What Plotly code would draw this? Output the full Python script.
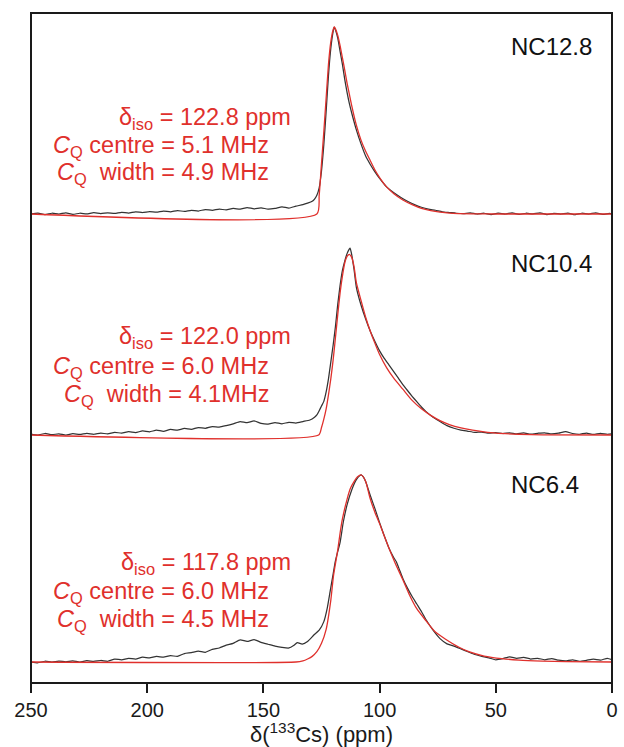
import plotly.graph_objects as go

# ---------------- data ----------------
# Panel NC12.8
nc128_exp_ppm = [250, 247, 244, 241, 238, 235, 232, 229, 226, 223, 220, 217, 214, 211, 208, 205, 202, 199,
                 196, 193, 190, 187, 184, 181, 178, 175, 172, 169, 166, 163, 160, 157, 154, 151, 148, 145,
                 142, 139, 136, 133, 131, 129, 128, 127, 126, 125, 124, 123, 122, 121, 120, 119.5, 119, 118,
                 117, 116, 115, 114, 113, 112, 110, 108, 106, 104, 102, 100, 97, 94, 91, 88, 85, 82, 79, 76,
                 73, 70, 67, 64, 61, 58, 55, 52, 49, 46, 43, 40, 37, 34, 31, 28, 25, 22, 19, 16, 13, 10, 7, 4, 1, 0]
nc128_exp_int = [0.0, 0.005, -0.003, 0.004, 0.0, 0.006, -0.002, 0.004, 0.001, 0.007, 0.002, 0.006, 0.003, 0.009,
                 0.005, 0.012, 0.008, 0.013, 0.01, 0.016, 0.012, 0.018, 0.014, 0.02, 0.016, 0.024, 0.02, 0.026,
                 0.022, 0.03, 0.026, 0.034, 0.028, 0.033, 0.026, 0.03, 0.038, 0.032, 0.042, 0.05, 0.058, 0.068,
                 0.08, 0.1, 0.14, 0.23, 0.37, 0.55, 0.74, 0.885, 0.975, 1.0, 0.985, 0.94, 0.87, 0.80, 0.72,
                 0.65, 0.59, 0.54, 0.45, 0.375, 0.31, 0.265, 0.225, 0.19, 0.145, 0.115, 0.09, 0.068, 0.05, 0.036,
                 0.026, 0.02, 0.012, 0.008, 0.004, 0.002, 0.006, 0.0, 0.004, -0.003, 0.005, 0.0, 0.006, -0.002,
                 0.004, 0.001, 0.006, -0.003, 0.003, 0.0, 0.005, -0.004, 0.004, 0.0, 0.006, -0.002, 0.003, 0.0]
nc128_fit_ppm = [250, 127, 126, 125, 124, 123, 122, 121, 120, 119.5, 119, 118, 117, 116, 115, 114, 113, 112, 110,
                 108, 106, 104, 102, 100, 97, 94, 90, 86, 82, 78, 74, 70, 60, 50, 0]
nc128_fit_int = [0.0, 0.0, 0.10, 0.27, 0.44, 0.62, 0.80, 0.92, 0.985, 1.0, 0.99, 0.955, 0.90, 0.835, 0.77, 0.70,
                 0.64, 0.58, 0.475, 0.395, 0.335, 0.285, 0.235, 0.195, 0.145, 0.11, 0.075, 0.05, 0.03, 0.018,
                 0.01, 0.005, 0.001, 0.0, 0.0]

# Panel NC10.4
nc104_exp_ppm = [250, 247, 244, 241, 238, 235, 232, 229, 226, 223, 220, 217, 214, 211, 208, 205, 202, 199,
                 196, 193, 190, 187, 184, 181, 178, 175, 172, 169, 166, 163, 160, 157, 154, 151, 148, 145,
                 142, 139, 136, 133, 130, 128, 127, 126, 125, 124, 123, 122, 121, 120, 119, 118, 117, 116,
                 115, 114, 113, 112.7, 112, 111, 110, 108, 106, 104, 102, 100, 98, 96, 94, 92, 90, 88, 86, 84,
                 82, 80, 77, 74, 71, 68, 65, 62, 59, 56, 53, 50, 47, 44, 41, 38, 35, 32, 29, 26, 23, 20, 17,
                 14, 11, 8, 5, 2, 0]
nc104_exp_int = [0.005, 0.0, 0.008, 0.002, 0.006, 0.0, 0.007, 0.003, 0.009, 0.004, 0.01, 0.006, 0.014, 0.01,
                 0.018, 0.013, 0.022, 0.017, 0.026, 0.02, 0.03, 0.026, 0.035, 0.03, 0.04, 0.036, 0.045, 0.042,
                 0.05, 0.06, 0.072, 0.066, 0.075, 0.062, 0.058, 0.066, 0.06, 0.068, 0.064, 0.072, 0.08, 0.095,
                 0.107, 0.13, 0.155, 0.18, 0.23, 0.30, 0.39, 0.48, 0.58, 0.70, 0.80, 0.88, 0.93, 0.97, 0.995,
                 1.0, 0.965, 0.885, 0.79, 0.695, 0.62, 0.555, 0.50, 0.45, 0.41, 0.375, 0.34, 0.305, 0.27, 0.238,
                 0.207, 0.178, 0.15, 0.125, 0.095, 0.072, 0.05, 0.036, 0.026, 0.02, 0.014, 0.016, 0.01, 0.013,
                 0.008, 0.012, 0.006, 0.011, 0.005, 0.009, 0.012, 0.006, 0.01, 0.018, 0.008, 0.004, 0.01, 0.003,
                 0.009, 0.004, 0.006]
nc104_fit_ppm = [250, 126.2, 125, 124, 123, 122, 121, 120, 119, 118, 117, 116, 115, 114, 113, 112, 111, 110,
                 108, 106, 104, 102, 100, 97, 94, 90, 86, 82, 78, 74, 70, 65, 60, 55, 50, 40, 30, 0]
nc104_fit_int = [0.0, 0.0, 0.04, 0.085, 0.14, 0.215, 0.30, 0.40, 0.52, 0.645, 0.76, 0.85, 0.92, 0.955, 0.966,
                 0.95, 0.9, 0.815, 0.72, 0.63, 0.555, 0.49, 0.43, 0.36, 0.305, 0.245, 0.185, 0.14, 0.105,
                 0.077, 0.056, 0.038, 0.026, 0.017, 0.01, 0.004, 0.001, 0.0]

# Panel NC6.4
nc64_exp_ppm = [250, 247, 244, 241, 238, 235, 232, 229, 226, 223, 220, 217, 214, 211, 208, 205, 202, 199,
                196, 193, 190, 187, 184, 181, 178, 175, 172, 169, 166, 163, 160, 157, 154, 151, 148, 145,
                142, 139, 137, 135.4, 133.3, 131, 128.3, 126, 124, 122.5, 121.3, 120, 119.1, 118.4, 117,
                115.6, 114, 112, 110, 108.5, 107.8, 107, 106, 104, 102, 100, 98, 96, 94, 92.8, 91.5, 90, 88,
                86, 84, 82, 80, 77, 74, 71, 68, 65, 62, 59, 56, 53, 50, 47, 44, 41, 38, 35, 32, 29, 26, 23,
                20, 17, 14, 11, 8, 5, 2, 0]
nc64_exp_int = [0.0, -0.004, 0.004, 0.0, 0.005, 0.001, 0.006, 0.0, 0.007, 0.003, 0.008, 0.004, 0.015, 0.012,
                0.02, 0.016, 0.026, 0.022, 0.03, 0.026, 0.034, 0.03, 0.045, 0.05, 0.058, 0.052, 0.068, 0.075,
                0.09, 0.1, 0.118, 0.11, 0.12, 0.105, 0.095, 0.085, 0.078, 0.075, 0.088, 0.104, 0.096, 0.11, 0.144,
                0.17, 0.216, 0.29, 0.376, 0.47, 0.536, 0.572, 0.64, 0.75, 0.84, 0.92, 0.975, 0.997, 1.0, 0.99,
                0.965, 0.89, 0.82, 0.745, 0.675, 0.61, 0.56, 0.536, 0.495, 0.447, 0.395, 0.35, 0.31, 0.27,
                0.226, 0.17, 0.125, 0.097, 0.085, 0.07, 0.055, 0.04, 0.03, 0.022, 0.012, 0.018, 0.028, 0.02,
                0.025, 0.016, 0.02, 0.012, 0.018, 0.01, 0.006, 0.012, 0.004, 0.009, 0.015, 0.01, 0.02, 0.012]
nc64_fit_ppm = [250, 136, 133, 131, 129, 127, 125, 123, 121, 119.8, 118, 117, 116, 114, 112.5, 111, 109.5,
                107.8, 106, 104.2, 102, 100, 98.5, 96, 94, 92.8, 90, 87.2, 84, 80, 76, 71.6, 66, 61.6, 55,
                47.4, 40, 30, 20, 0]
nc64_fit_int = [0.0, 0.0, 0.006, 0.016, 0.03, 0.055, 0.1, 0.175, 0.33, 0.465, 0.6, 0.69, 0.765, 0.87, 0.93,
                0.965, 0.99, 1.0, 0.965, 0.88, 0.8, 0.74, 0.69, 0.61, 0.55, 0.515, 0.44, 0.36, 0.285, 0.22,
                0.16, 0.122, 0.08, 0.055, 0.032, 0.018, 0.01, 0.005, 0.002, 0.0]

panel_names = ["NC12.8", "NC10.4", "NC6.4"]
panel_params = [
    ["δ<sub>iso</sub> = 122.8 ppm", "<i>C</i><sub>Q</sub> centre = 5.1 MHz", "<i>C</i><sub>Q</sub>  width = 4.9 MHz"],
    ["δ<sub>iso</sub> = 122.0 ppm", "<i>C</i><sub>Q</sub> centre = 6.0 MHz", "<i>C</i><sub>Q</sub>  width = 4.1MHz"],
    ["δ<sub>iso</sub> = 117.8 ppm", "<i>C</i><sub>Q</sub> centre = 6.0 MHz", "<i>C</i><sub>Q</sub>  width = 4.5 MHz"],
]
x_ticks = [250, 200, 150, 100, 50, 0]
x_title = "δ(<sup>133</sup>Cs) (ppm)"

# ---------------- figure ----------------
W, H = 624, 747
ML, MR, MT, MB = 31, 6, 13, 64
plot_h = H - MT - MB

def py(px):  # pixel row -> paper y
    return (H - MB - px) / plot_h

def pxx(px):  # pixel column -> paper x
    return (px - ML) / (W - ML - MR)

BLACK = "#333333"
RED = "#e0302c"
FONT = "Liberation Sans, Arial, sans-serif"

exp_sets = [(nc128_exp_ppm, nc128_exp_int), (nc104_exp_ppm, nc104_exp_int), (nc64_exp_ppm, nc64_exp_int)]
fit_sets = [(nc128_fit_ppm, nc128_fit_int), (nc104_fit_ppm, nc104_fit_int), (nc64_fit_ppm, nc64_fit_int)]

# pixel rows: (domain top, domain bottom, baseline), unit height in px
panel_px = [(13, 224, 214), (224, 445, 435), (445, 683, 662)]
unit = 187.0
yaxis_names = ["y3", "y2", "y"]
layout_keys = ["yaxis3", "yaxis2", "yaxis"]

fig = go.Figure()
layout_axes = {}
for i in range(3):
    top, bot, base = panel_px[i]
    yname = yaxis_names[i]
    fig.add_trace(go.Scatter(x=exp_sets[i][0], y=exp_sets[i][1], mode="lines", yaxis=yname, xaxis="x",
                             line=dict(color=BLACK, width=1.25, shape="spline", smoothing=0.5),
                             showlegend=False, hoverinfo="skip"))
    fig.add_trace(go.Scatter(x=fit_sets[i][0], y=fit_sets[i][1], mode="lines", yaxis=yname, xaxis="x",
                             line=dict(color=RED, width=1.3, shape="spline", smoothing=0.6),
                             showlegend=False, hoverinfo="skip"))
    layout_axes[layout_keys[i]] = dict(
        domain=[py(bot), py(top)],
        range=[(base - bot) / unit, (base - top) / unit],
        visible=False, fixedrange=True, anchor="x",
    )

fig.update_layout(**layout_axes)

fig.update_layout(
    width=W, height=H,
    margin=dict(l=ML, r=MR, t=MT, b=MB, pad=0),
    paper_bgcolor="white", plot_bgcolor="white",
    font=dict(family=FONT, color="#1a1a1a"),
    xaxis=dict(
        range=[250, 0], tickvals=x_ticks, ticktext=[str(v) for v in x_ticks],
        ticks="outside", ticklen=9, tickwidth=1.6, tickcolor="#1a1a1a",
        showgrid=False, zeroline=False, showline=False,
        tickfont=dict(size=20, family=FONT, color="#1a1a1a"),
        title=dict(text=x_title, font=dict(size=22, family=FONT, color="#1a1a1a"), standoff=4),
        anchor="y", fixedrange=True,
    ),
)

# frame
fig.add_shape(type="rect", xref="paper", yref="paper", x0=0, x1=1, y0=0, y1=1,
              line=dict(color="#1a1a1a", width=2), layer="above")

name_rows = [47, 263, 485]
param_rows = [[118, 147, 173], [338, 367, 395], [563, 592, 620]]
param_right = [296, 273, 273]
for i in range(3):
    fig.add_annotation(text=panel_names[i], xref="paper", yref="paper", x=pxx(514), y=py(name_rows[i]),
                       xanchor="left", yanchor="middle", showarrow=False,
                       font=dict(size=24, family=FONT, color="#111111"))
    for j in range(3):
        fig.add_annotation(text=panel_params[i][j], xref="paper", yref="paper",
                           x=pxx(param_right[j]), y=py(param_rows[i][j]),
                           xanchor="right", yanchor="middle", showarrow=False,
                           font=dict(size=23.5, family=FONT, color=RED))

fig.write_html("out.html")
